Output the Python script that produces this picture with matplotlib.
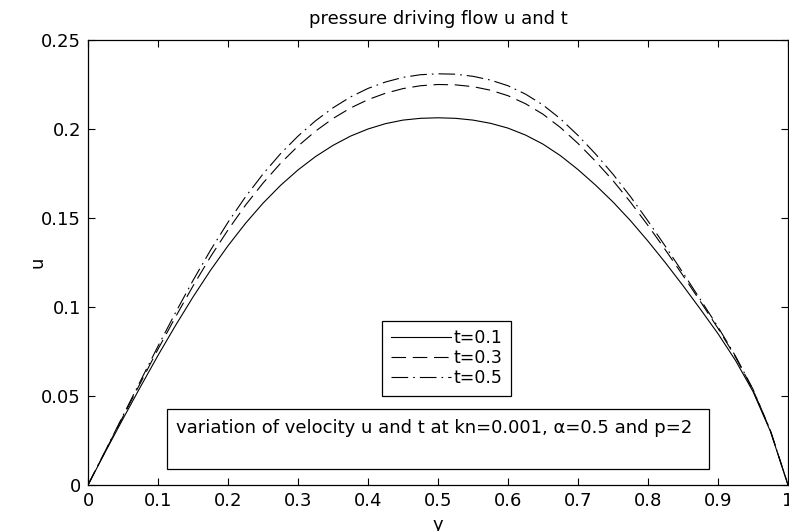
import matplotlib
matplotlib.use("Agg")
import matplotlib.pyplot as plt
from matplotlib.patches import Rectangle

# ---- data ----
y_pos = [0.000, 0.025, 0.050, 0.075, 0.100, 0.125, 0.150, 0.175, 0.200, 0.225,
         0.250, 0.275, 0.300, 0.325, 0.350, 0.375, 0.400, 0.425, 0.450, 0.475,
         0.500, 0.525, 0.550, 0.575, 0.600, 0.625, 0.650, 0.675, 0.700, 0.725,
         0.750, 0.775, 0.800, 0.825, 0.850, 0.875, 0.900, 0.925, 0.950, 0.975, 1.000]
u_t01 = [0.0000, 0.0188, 0.0372, 0.0552, 0.0728, 0.0896, 0.1056, 0.1206, 0.1344, 0.1470,
         0.1583, 0.1683, 0.1770, 0.1845, 0.1908, 0.1960, 0.2000, 0.2030, 0.2050, 0.2060,
         0.2063, 0.2060, 0.2050, 0.2032, 0.2005, 0.1966, 0.1915, 0.1850, 0.1772, 0.1685,
         0.1590, 0.1485, 0.1370, 0.1248, 0.1120, 0.0987, 0.0850, 0.0700, 0.0525, 0.0300, 0.0000]
u_t03 = [0.0000, 0.0192, 0.0384, 0.0574, 0.0763, 0.0944, 0.1118, 0.1282, 0.1433, 0.1572,
         0.1696, 0.1807, 0.1904, 0.1988, 0.2059, 0.2118, 0.2165, 0.2201, 0.2227, 0.2243,
         0.2250, 0.2248, 0.2238, 0.2218, 0.2187, 0.2142, 0.2083, 0.2008, 0.1919, 0.1819,
         0.1710, 0.1589, 0.1458, 0.1320, 0.1177, 0.1030, 0.0880, 0.0719, 0.0535, 0.0304, 0.0000]
u_t05 = [0.0000, 0.0194, 0.0390, 0.0585, 0.0780, 0.0968, 0.1149, 0.1319, 0.1476, 0.1619,
         0.1747, 0.1861, 0.1960, 0.2046, 0.2119, 0.2180, 0.2228, 0.2264, 0.2290, 0.2305,
         0.2310, 0.2308, 0.2296, 0.2275, 0.2243, 0.2196, 0.2135, 0.2057, 0.1964, 0.1860,
         0.1746, 0.1620, 0.1483, 0.1340, 0.1192, 0.1041, 0.0888, 0.0724, 0.0538, 0.0305, 0.0000]
labels = ["t=0.1", "t=0.3", "t=0.5"]
xticks = [0, 0.1, 0.2, 0.3, 0.4, 0.5, 0.6, 0.7, 0.8, 0.9, 1]
xticklabels = ["0", "0.1", "0.2", "0.3", "0.4", "0.5", "0.6", "0.7", "0.8", "0.9", "1"]
yticks = [0, 0.05, 0.1, 0.15, 0.2, 0.25]
yticklabels = ["0", "0.05", "0.1", "0.15", "0.2", "0.25"]

plt.rcParams['font.family'] = ['DejaVu Sans']
plt.rcParams['lines.scale_dashes'] = False
FS = 13

fig = plt.figure(figsize=(7.89, 5.31), dpi=100)
ax = fig.add_axes([88/789, 46/531, 700/789, 445/531])

lw = 0.8
ax.plot(y_pos, u_t01, color='black', lw=lw, linestyle='-', label=labels[0])
ax.plot(y_pos, u_t03, color='black', lw=lw, linestyle=(0, (10.5, 4.8)), label=labels[1])
ax.plot(y_pos, u_t05, color='black', lw=lw, linestyle=(0, (12, 3.6, 1.2, 3.6)), label=labels[2])

ax.set_xlim(0, 1)
ax.set_ylim(0, 0.25)
ax.set_xticks(xticks)
ax.set_xticklabels(xticklabels)
ax.set_yticks(yticks)
ax.set_yticklabels(yticklabels)
ax.tick_params(direction='in', length=5, width=0.8, top=True, right=True,
               labelsize=FS, pad=5, colors='black')
for s in ax.spines.values():
    s.set_linewidth(0.9)
    s.set_color('black')

ax.set_title("pressure driving flow u and t", fontsize=FS, pad=11.5)
ax.set_xlabel("y", fontsize=FS, labelpad=4)
ax.set_ylabel("u", fontsize=FS)
ax.yaxis.set_label_coords(-0.06, 0.5)

leg = ax.legend(loc='center', bbox_to_anchor=(0.512, 0.285), fontsize=12.5,
                frameon=True, fancybox=False, edgecolor='black', framealpha=1,
                handlelength=3.5, handletextpad=0.1, labelspacing=0.1,
                borderpad=0.5, borderaxespad=0)
leg.get_frame().set_linewidth(0.9)

rect = Rectangle((0.1129, 0.036), 0.887 - 0.1129, 0.171 - 0.036,
                 transform=ax.transAxes, fill=False, edgecolor='black', lw=0.9)
ax.add_patch(rect)
ax.text(0.1257, 0.128, "variation of velocity u and t at kn=0.001, α=0.5 and p=2",
        transform=ax.transAxes, ha='left', va='center', fontsize=FS)

fig.savefig("out.png", dpi=100)
